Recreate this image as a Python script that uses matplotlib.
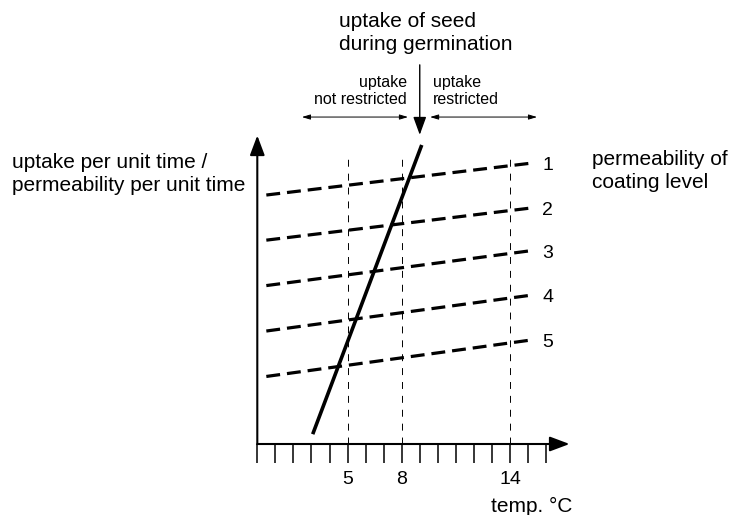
import numpy as np
import matplotlib
matplotlib.use("Agg")
import matplotlib.pyplot as plt

plt.rcParams['font.family'] = ['Liberation Sans', 'DejaVu Sans']
plt.rcParams['lines.scale_dashes'] = False

# temperature axis
temp_ticks = np.arange(0, 17)
labeled_temps = [5, 8, 14]
guide_temps = [5, 8, 14]

# uptake of seed (solid line)
uptake_x = [3.07, 9.11]
uptake_y = [0.32, 9.74]

# permeability of coating levels (dashed lines)
perm_x = [0.5, 15.2]
perm_start = [8.11, 6.64, 5.16, 3.68, 2.20]
perm_end = [9.15, 7.69, 6.30, 4.85, 3.39]
perm_labels = ['1', '2', '3', '4', '5']

fig = plt.figure(figsize=(7.36, 5.15), dpi=100)
ax = fig.add_axes([257.3 / 736, 71 / 515, 17.5 * 18.05 / 736, 307 / 515])
ax.set_xlim(0, 17.5)
ax.set_ylim(0, 10)
ax.axis('off')

big = 15
mid = 14
small = 11.5

# axes with arrows
ax.annotate('', xy=(0, 10.05), xytext=(0, 0), annotation_clip=False,
            arrowprops=dict(arrowstyle='-|>,head_length=1.2,head_width=0.45',
                            lw=1.5, color='black', shrinkA=0, shrinkB=0))
ax.annotate('', xy=(17.3, 0), xytext=(0, 0), annotation_clip=False,
            arrowprops=dict(arrowstyle='-|>,head_length=1.2,head_width=0.45',
                            lw=1.5, color='black', shrinkA=0, shrinkB=0))

# ticks below the axis
for t in temp_ticks:
    ax.plot([t, t], [0, -0.62], color='black', lw=1.1, clip_on=False,
            solid_capstyle='butt')
for t in labeled_temps:
    ax.text(t, -1.17, str(t), ha='center', va='center', fontsize=mid)
ax.text(17.43, -2.05, 'temp. °C', ha='right', va='center', fontsize=big)

# thin vertical guides
for t in guide_temps:
    ax.plot([t, t], [0, 9.48], color='black', lw=0.7, dashes=(5, 5),
            clip_on=False)

# permeability lines
for y0, y1, lab in zip(perm_start, perm_end, perm_labels):
    ax.plot(perm_x, [y0, y1], color='black', lw=2.3, dashes=(10, 5),
            solid_capstyle='butt', dash_capstyle='butt', clip_on=False)
    ax.text(15.8, y1 - 0.08, lab, ha='left', va='center', fontsize=mid)

# uptake line
ax.plot(uptake_x, uptake_y, color='black', lw=2.6, clip_on=False,
        solid_capstyle='butt')

# top arrow and ranges
ax.annotate('', xy=(9.0, 10.07), xytext=(9.0, 12.35), annotation_clip=False,
            arrowprops=dict(arrowstyle='-|>,head_length=1.1,head_width=0.4',
                            lw=1.0, color='black', shrinkA=0, shrinkB=0))
ax.annotate('', xy=(2.47, 10.65), xytext=(8.35, 10.65), annotation_clip=False,
            arrowprops=dict(arrowstyle='<|-|>,head_length=0.5,head_width=0.15',
                            lw=0.7, color='black', shrinkA=0, shrinkB=0))
ax.annotate('', xy=(9.57, 10.65), xytext=(15.5, 10.65), annotation_clip=False,
            arrowprops=dict(arrowstyle='<|-|>,head_length=0.5,head_width=0.15',
                            lw=0.7, color='black', shrinkA=0, shrinkB=0))

ax.text(4.52, 13.39, 'uptake of seed\nduring germination', ha='left',
        va='center', fontsize=big, linespacing=1.25)
ax.text(8.3, 11.5, 'uptake\nnot restricted', ha='right', va='center',
        fontsize=small, linespacing=1.2, multialignment='right')
ax.text(9.73, 11.5, 'uptake\nrestricted', ha='left', va='center',
        fontsize=small, linespacing=1.2)

ax.text(-13.59, 8.79, 'uptake per unit time /\npermeability per unit time',
        ha='left', va='center', fontsize=big, linespacing=1.25)
ax.text(18.53, 8.89, 'permeability of\ncoating level', ha='left',
        va='center', fontsize=big, linespacing=1.25)

fig.savefig('out.png', dpi=100)
